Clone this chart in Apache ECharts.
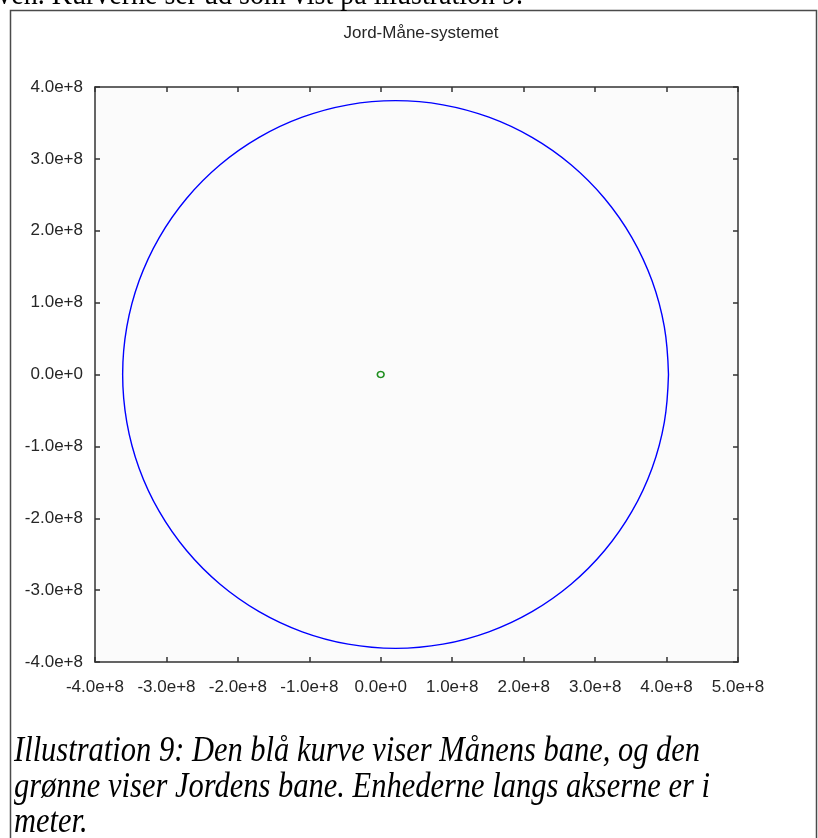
<!DOCTYPE html>
<html>
<head>
<meta charset="utf-8">
<script src="https://cdn.jsdelivr.net/npm/echarts/dist/echarts.min.js"></script>
<style>
  html, body { margin: 0; padding: 0; background: #ffffff; }
  #chart { width: 818px; height: 838px; }
</style>
</head>
<body>
<div id="chart"></div>
<script>
// Axis ranges (metres)
const xMin = -4e8, xMax = 5e8;
const yMin = -4e8, yMax = 4e8;
const tickStep = 1e8;

// Moon's path (metres), traced counter-clockwise from perigee side
const moonX = [
  4.027e8, 3.969e8, 3.797e8, 3.515e8, 3.133e8, 2.663e8, 2.117e8, 1.513e8, 0.870e8,
  0.207e8, -0.456e8, -1.099e8, -1.703e8, -2.249e8, -2.719e8, -3.101e8, -3.383e8, -3.555e8,
  -3.613e8, -3.555e8, -3.383e8, -3.101e8, -2.719e8, -2.249e8, -1.703e8, -1.099e8, -0.456e8,
  0.207e8, 0.870e8, 1.513e8, 2.117e8, 2.663e8, 3.133e8, 3.515e8, 3.797e8, 3.969e8, 4.027e8
];
const moonY = [
  0, 0.661e8, 1.303e8, 1.905e8, 2.449e8, 2.918e8, 3.299e8, 3.580e8, 3.752e8,
  3.810e8, 3.752e8, 3.580e8, 3.299e8, 2.918e8, 2.449e8, 1.905e8, 1.303e8, 0.661e8,
  0, -0.661e8, -1.303e8, -1.905e8, -2.449e8, -2.918e8, -3.299e8, -3.580e8, -3.752e8,
  -3.810e8, -3.752e8, -3.580e8, -3.299e8, -2.918e8, -2.449e8, -1.905e8, -1.303e8, -0.661e8, 0
];

// Earth's path (metres), a small loop around the origin
const earthX = [4.6e6, 3.97e6, 2.25e6, -0.1e6, -2.45e6, -4.17e6, -4.8e6, -4.17e6, -2.45e6, -0.1e6, 2.25e6, 3.97e6, 4.6e6];
const earthY = [0, 2.1e6, 3.64e6, 4.2e6, 3.64e6, 2.1e6, 0, -2.1e6, -3.64e6, -4.2e6, -3.64e6, -2.1e6, 0];

const titleText = 'Jord-Måne-systemet';
const leadText = 'ven. Kurverne ser ud som vist på illustration 9.';
const captionText = 'Illustration 9: Den blå kurve viser Månens bane, og den\ngrønne viser Jordens bane. Enhederne langs akserne er i\nmeter.';

const pairs = (xs, ys) => xs.map((x, i) => [x, ys[i]]);
const fmt = v => v.toExponential(1);

const chart = echarts.init(document.getElementById('chart'), null, { renderer: 'canvas' });

const labelFont = { fontFamily: '"Liberation Sans", Arial, sans-serif', fontSize: 17, color: '#262626' };
const lineStyle = { color: '#333333', width: 1.5 };
const tickStyle = { show: true, inside: true, length: 5, lineStyle: { color: '#333333', width: 1.5 } };

chart.setOption({
  animation: false,
  backgroundColor: '#ffffff',
  title: {
    text: titleText,
    left: 416,
    top: 20,
    textAlign: 'center',
    textStyle: { fontFamily: '"Liberation Sans", Arial, sans-serif', fontSize: 17, fontWeight: 'normal', color: '#262626' }
  },
  grid: {
    left: 95, top: 87, width: 643, height: 575,
    show: true, backgroundColor: '#fbfbfb', borderWidth: 0
  },
  xAxis: [
    {
      type: 'value', position: 'bottom', min: xMin, max: xMax, interval: tickStep,
      axisLine: { show: true, onZero: false, lineStyle },
      axisTick: tickStyle,
      splitLine: { show: false },
      axisLabel: Object.assign({ margin: 17, formatter: fmt }, labelFont)
    },
    {
      type: 'value', position: 'top', min: xMin, max: xMax, interval: tickStep,
      axisLine: { show: true, onZero: false, lineStyle },
      axisTick: tickStyle,
      splitLine: { show: false },
      axisLabel: { show: false }
    }
  ],
  yAxis: [
    {
      type: 'value', position: 'left', min: yMin, max: yMax, interval: tickStep,
      axisLine: { show: true, onZero: false, lineStyle },
      axisTick: tickStyle,
      splitLine: { show: false },
      axisLabel: Object.assign({ margin: 12, formatter: fmt, padding: [4, 0, 0, 0] }, labelFont)
    },
    {
      type: 'value', position: 'right', min: yMin, max: yMax, interval: tickStep,
      axisLine: { show: true, onZero: false, lineStyle },
      axisTick: tickStyle,
      splitLine: { show: false },
      axisLabel: { show: false }
    }
  ],
  series: [
    {
      name: 'Månen', type: 'line', xAxisIndex: 0, yAxisIndex: 0,
      data: pairs(moonX, moonY), smooth: 0.4, showSymbol: false,
      lineStyle: { color: '#0000ff', width: 1.4 }
    },
    {
      name: 'Jorden', type: 'line', xAxisIndex: 0, yAxisIndex: 0,
      data: pairs(earthX, earthY), smooth: 0.4, showSymbol: false,
      lineStyle: { color: '#1f8f1f', width: 1.6 }
    }
  ],
  graphic: [
    {
      type: 'rect', silent: true,
      shape: { x: 10.5, y: 10.5, width: 806, height: 900 },
      style: { fill: 'none', stroke: '#4a4a4a', lineWidth: 1.5 }
    },
    {
      type: 'text', silent: true, x: 523, y: -4, scaleY: 1.15,
      style: { text: leadText, font: '28px "Liberation Serif", "Times New Roman", serif', fill: '#000000', textAlign: 'right', textVerticalAlign: 'middle' }
    },
    {
      type: 'text', silent: true, x: 14, y: 734, scaleY: 1.15,
      style: { text: captionText, font: 'italic 30.5px "Liberation Serif", "Times New Roman", serif', lineHeight: 31, fill: '#000000', textAlign: 'left', textVerticalAlign: 'top' }
    }
  ]
});
</script>
</body>
</html>
